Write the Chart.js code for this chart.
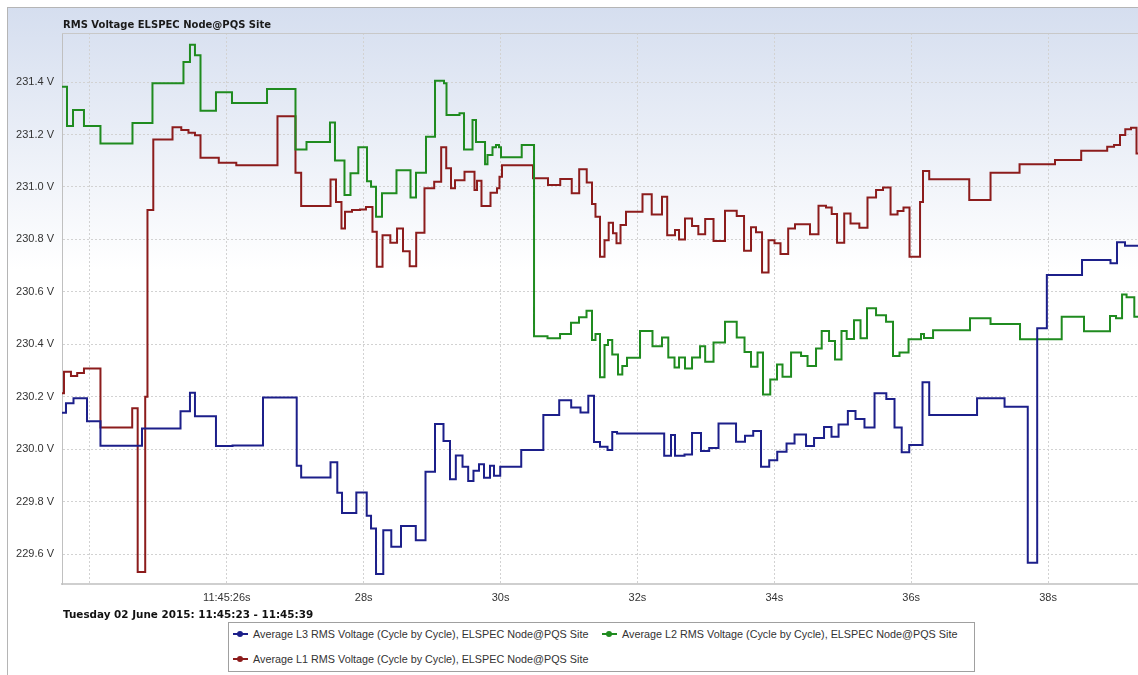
<!DOCTYPE html>
<html>
<head>
<meta charset="utf-8">
<title>RMS Voltage ELSPEC Node@PQS Site</title>
<script src="https://cdn.jsdelivr.net/npm/chart.js@4.4.0/dist/chart.umd.min.js"></script>
<style>
  html, body { margin: 0; padding: 0; background: #fff; }
  #wrap { position: relative; width: 1138px; height: 675px; overflow: hidden; font-family: Arial, "Liberation Sans", sans-serif; }
  #chart { position: absolute; left: 0; top: 0; }
  .title, .subtitle { position: absolute; left: 63px; font-family: "DejaVu Sans", Verdana, sans-serif; font-weight: bold; font-size: 10px; line-height: 12px; color: #1a1a1a; }
  .title { top: 19px; }
  .subtitle { top: 608px; font-size: 10.4px; color: #111; }
  .legend { position: absolute; left: 228px; top: 622px; width: 745px; height: 48px; border: 1px solid #a0a0a0; background: #fff; }
  .item { position: absolute; font-size: 10.8px; color: #333; white-space: nowrap; line-height: 14px; }
  .mark { position: absolute; width: 15px; height: 2px; top: 6px; left: -20px; }
  .mark::after { content: ''; position: absolute; left: 4px; top: -2px; width: 6px; height: 6px; border-radius: 50%; background: inherit; }
</style>
</head>
<body>
<div id="wrap">
  <canvas id="chart" width="1138" height="675"></canvas>
  <div class="title">RMS Voltage ELSPEC Node@PQS Site</div>
  <div class="subtitle">Tuesday 02 June 2015: 11:45:23 - 11:45:39</div>
  <div class="legend" id="legend"></div>
</div>
<script>
// seconds after 11:45:00, level start times (step data)
const l3Times = [23.591, 23.649, 23.759, 23.956, 24.153, 24.760, 25.323, 25.461, 25.534, 25.841,
  26.083, 26.528, 27.021, 27.086, 27.515, 27.614, 27.683, 27.892, 28.044, 28.107,
  28.180, 28.286, 28.403, 28.545, 28.761, 28.903, 29.042, 29.166, 29.261, 29.346,
  29.444, 29.527, 29.604, 29.685, 29.758, 29.846, 29.904, 29.995, 30.302, 30.625,
  30.857, 31.032, 31.168, 31.282, 31.365, 31.453, 31.563, 31.632, 31.702, 32.391,
  32.491, 32.549, 32.688, 32.798, 32.929, 33.049, 33.185, 33.441, 33.572, 33.692,
  33.806, 33.926, 34.043, 34.179, 34.296, 34.464, 34.581, 34.727, 34.836, 34.939,
  35.075, 35.187, 35.318, 35.465, 35.637, 35.757, 35.862, 35.972, 36.166, 36.264,
  36.963, 37.365, 37.704, 37.842, 37.983, 38.497, 38.913, 39.008, 39.125, 39.315];
const l3Volts = [230.139, 230.175, 230.194, 230.107, 230.013, 230.079, 230.145, 230.215, 230.126, 230.012,
  230.014, 230.197, 229.937, 229.892, 229.950, 229.834, 229.757, 229.835, 229.746, 229.698,
  229.524, 229.691, 229.628, 229.707, 229.653, 229.914, 230.096, 230.031, 229.885, 229.976,
  229.933, 229.879, 229.918, 229.943, 229.891, 229.937, 229.899, 229.933, 229.997, 230.130,
  230.187, 230.159, 230.140, 230.204, 230.027, 230.009, 229.997, 230.066, 230.060, 229.975,
  230.054, 229.975, 229.980, 230.062, 229.993, 230.005, 230.098, 230.028, 230.051, 230.069,
  229.933, 229.958, 229.990, 230.022, 230.056, 230.012, 230.043, 230.085, 230.047, 230.094,
  230.146, 230.115, 230.083, 230.213, 230.191, 230.083, 229.988, 230.016, 230.255, 230.130,
  230.194, 230.162, 229.567, 230.461, 230.664, 230.721, 230.709, 230.789, 230.776, 230.776];

const l2Times = [23.591, 23.664, 23.752, 23.912, 24.153, 24.621, 24.913, 25.366, 25.461, 25.534,
  25.615, 25.841, 26.075, 26.587, 27.003, 27.164, 27.507, 27.580, 27.719, 27.807,
  27.921, 28.048, 28.107, 28.180, 28.267, 28.479, 28.684, 28.764, 28.910, 29.042,
  29.173, 29.210, 29.400, 29.466, 29.590, 29.641, 29.773, 29.809, 29.882, 29.933,
  29.977, 30.006, 30.309, 30.489, 30.686, 30.869, 31.029, 31.146, 31.256, 31.336,
  31.387, 31.453, 31.519, 31.570, 31.632, 31.716, 31.779, 31.848, 32.038, 32.220,
  32.359, 32.451, 32.542, 32.608, 32.695, 32.798, 32.915, 32.990, 33.112, 33.280,
  33.451, 33.565, 33.660, 33.755, 33.835, 33.941, 34.040, 34.120, 34.245, 34.391,
  34.486, 34.610, 34.693, 34.800, 34.887, 34.982, 35.058, 35.165, 35.260, 35.355,
  35.487, 35.633, 35.735, 35.830, 35.962, 36.144, 36.188, 36.320, 36.860, 37.160,
  37.591, 38.200, 38.526, 38.906, 38.994, 39.082, 39.148, 39.261, 39.315];
const l2Volts = [231.382, 231.232, 231.293, 231.232, 231.166, 231.244, 231.395, 231.476, 231.542, 231.502,
  231.291, 231.361, 231.320, 231.373, 231.143, 231.171, 231.246, 231.101, 230.969, 231.052,
  231.151, 231.022, 231.001, 230.886, 230.976, 231.064, 230.960, 231.054, 231.191, 231.405,
  231.395, 231.274, 231.281, 231.143, 231.255, 231.171, 231.087, 231.122, 231.151, 231.160,
  231.151, 231.113, 231.160, 230.431, 230.423, 230.439, 230.482, 230.503, 230.528, 230.416,
  230.439, 230.274, 230.397, 230.416, 230.361, 230.285, 230.317, 230.349, 230.451, 230.393,
  230.426, 230.350, 230.312, 230.350, 230.308, 230.350, 230.393, 230.333, 230.407, 230.486,
  230.426, 230.371, 230.314, 230.369, 230.209, 230.266, 230.323, 230.276, 230.369, 230.355,
  230.317, 230.384, 230.451, 230.413, 230.342, 230.451, 230.420, 230.492, 230.423, 230.537,
  230.511, 230.486, 230.355, 230.369, 230.419, 230.439, 230.424, 230.454, 230.499, 230.477,
  230.419, 230.505, 230.450, 230.508, 230.499, 230.590, 230.579, 230.505, 230.505];

const l1Times = [23.591, 23.620, 23.722, 23.813, 23.912, 24.153, 24.617, 24.697, 24.807, 24.840,
  24.925, 25.206, 25.334, 25.439, 25.534, 25.615, 25.882, 26.138, 26.740, 27.003,
  27.086, 27.515, 27.595, 27.675, 27.727, 27.829, 27.946, 28.033, 28.128, 28.191,
  28.275, 28.389, 28.487, 28.574, 28.672, 28.767, 28.888, 29.030, 29.132, 29.206,
  29.276, 29.334, 29.473, 29.619, 29.656, 29.721, 29.853, 29.948, 29.984, 30.021,
  30.474, 30.693, 30.872, 31.040, 31.149, 31.259, 31.336, 31.387, 31.453, 31.519,
  31.580, 31.643, 31.694, 31.753, 31.833, 32.074, 32.209, 32.359, 32.435, 32.549,
  32.608, 32.695, 32.798, 32.890, 32.990, 33.112, 33.280, 33.451, 33.558, 33.660,
  33.733, 33.821, 33.916, 34.003, 34.091, 34.203, 34.303, 34.522, 34.646, 34.756,
  34.839, 34.917, 35.022, 35.114, 35.243, 35.362, 35.487, 35.589, 35.699, 35.801,
  35.888, 35.976, 36.130, 36.173, 36.264, 36.849, 37.160, 37.584, 38.102, 38.485,
  38.865, 38.965, 39.052, 39.129, 39.213, 39.293, 39.315];
const l1Volts = [230.213, 230.295, 230.279, 230.291, 230.308, 230.083, 230.156, 229.532, 230.200, 230.912,
  231.181, 231.228, 231.217, 231.207, 231.197, 231.111, 231.092, 231.083, 231.270, 231.054,
  230.927, 231.028, 230.943, 230.842, 230.905, 230.912, 230.914, 230.924, 230.829, 230.696,
  230.816, 230.787, 230.842, 230.755, 230.698, 230.825, 230.995, 231.020, 231.151, 231.071,
  230.995, 231.026, 231.058, 230.988, 231.024, 230.927, 230.978, 230.995, 231.039, 231.083,
  231.033, 231.007, 231.030, 230.976, 231.067, 231.017, 230.935, 230.886, 230.734, 230.797,
  230.863, 230.823, 230.785, 230.855, 230.905, 230.972, 230.895, 230.963, 230.816, 230.836,
  230.800, 230.880, 230.851, 230.820, 230.878, 230.794, 230.909, 230.889, 230.757, 230.846,
  230.827, 230.674, 230.797, 230.785, 230.744, 230.842, 230.858, 230.820, 230.928, 230.922,
  230.897, 230.787, 230.899, 230.861, 230.844, 230.960, 230.988, 230.998, 230.895, 230.908,
  230.922, 230.734, 230.943, 231.061, 231.029, 230.950, 231.054, 231.087, 231.103, 231.138,
  231.153, 231.160, 231.198, 231.220, 231.226, 231.128, 231.128];

const seriesNames = [
  'Average L3 RMS Voltage (Cycle by Cycle), ELSPEC Node@PQS Site',
  'Average L2 RMS Voltage (Cycle by Cycle), ELSPEC Node@PQS Site',
  'Average L1 RMS Voltage (Cycle by Cycle), ELSPEC Node@PQS Site'
];
const seriesColors = ['#1c1f8a', '#1f8b1f', '#8c1c1c'];

const xMin = 23.591, xMax = 39.315;
const yMin = 229.486, yMax = 231.587;

function toPoints(times, volts) {
  return times.map(function(t, i) { return { x: t, y: volts[i] }; });
}

const frame = {
  id: 'frame',
  beforeDraw(chart) {
    const { ctx, width, height } = chart;
    ctx.save();
    ctx.fillStyle = '#fff';
    ctx.fillRect(0, 0, width, height);
    const g = ctx.createLinearGradient(0, 7, 0, 270);
    g.addColorStop(0, '#d5deef');
    g.addColorStop(1, '#ffffff');
    ctx.fillStyle = g;
    ctx.fillRect(7, 7, width, height);
    ctx.strokeStyle = '#b5b5b5';
    ctx.lineWidth = 1;
    ctx.strokeRect(7.5, 7.5, width, height);
    ctx.restore();
  },
  beforeDatasetsDraw(chart) {
    const { ctx, chartArea } = chart;
    ctx.save();
    ctx.strokeStyle = '#c8c8c8';
    ctx.lineWidth = 1;
    ctx.beginPath();
    ctx.moveTo(chartArea.left, chartArea.top + 0.5);
    ctx.lineTo(chartArea.right, chartArea.top + 0.5);
    ctx.stroke();
    ctx.restore();
  }
};

const tickFont = { family: 'Arial, "Liberation Sans", sans-serif', size: 11 };

new Chart(document.getElementById('chart'), {
  type: 'line',
  data: {
    datasets: [
      { label: seriesNames[0], data: toPoints(l3Times, l3Volts), borderColor: seriesColors[0] },
      { label: seriesNames[1], data: toPoints(l2Times, l2Volts), borderColor: seriesColors[1] },
      { label: seriesNames[2], data: toPoints(l1Times, l1Volts), borderColor: seriesColors[2] }
    ]
  },
  options: {
    responsive: false,
    animation: false,
    devicePixelRatio: 1,
    elements: {
      line: { borderWidth: 2, stepped: true, tension: 0 },
      point: { radius: 0, hoverRadius: 0 }
    },
    layout: { padding: { top: 33, left: 0, right: 0, bottom: 66 } },
    plugins: { legend: { display: false }, title: { display: false }, tooltip: { enabled: false } },
    scales: {
      x: {
        type: 'linear',
        min: xMin,
        max: xMax,
        afterFit: function(scale) { scale.height = 25; },
        grid: { color: '#d2d2d2', drawTicks: false },
        border: { color: '#cfcfcf', width: 2, dash: [2, 2] },
        ticks: {
          stepSize: 2,
          includeBounds: false,
          autoSkip: false,
          maxRotation: 0,
          padding: 7,
          color: '#333',
          font: tickFont,
          callback: function(v) {
            if (v === 24) return '';
            if (v === 26) return '11:45:26s';
            return v + 's';
          }
        }
      },
      y: {
        min: yMin,
        max: yMax,
        afterFit: function(scale) { scale.width = 62; },
        grid: { color: '#d2d2d2', drawTicks: false },
        border: { color: '#c0c0c0', width: 1, dash: [2, 2] },
        ticks: {
          stepSize: 0.2,
          includeBounds: false,
          padding: 8,
          color: '#333',
          font: tickFont,
          callback: function(v) { return v.toFixed(1) + ' V'; }
        }
      }
    }
  },
  plugins: [frame]
});

// legend box below the chart
const legendPos = [[24, 4], [393, 4], [24, 29]];
const legendEl = document.getElementById('legend');
seriesNames.forEach(function(name, i) {
  const item = document.createElement('div');
  item.className = 'item';
  item.style.left = legendPos[i][0] + 'px';
  item.style.top = legendPos[i][1] + 'px';
  const mark = document.createElement('span');
  mark.className = 'mark';
  mark.style.background = seriesColors[i];
  item.appendChild(mark);
  item.appendChild(document.createTextNode(name));
  legendEl.appendChild(item);
});
</script>
</body>
</html>
